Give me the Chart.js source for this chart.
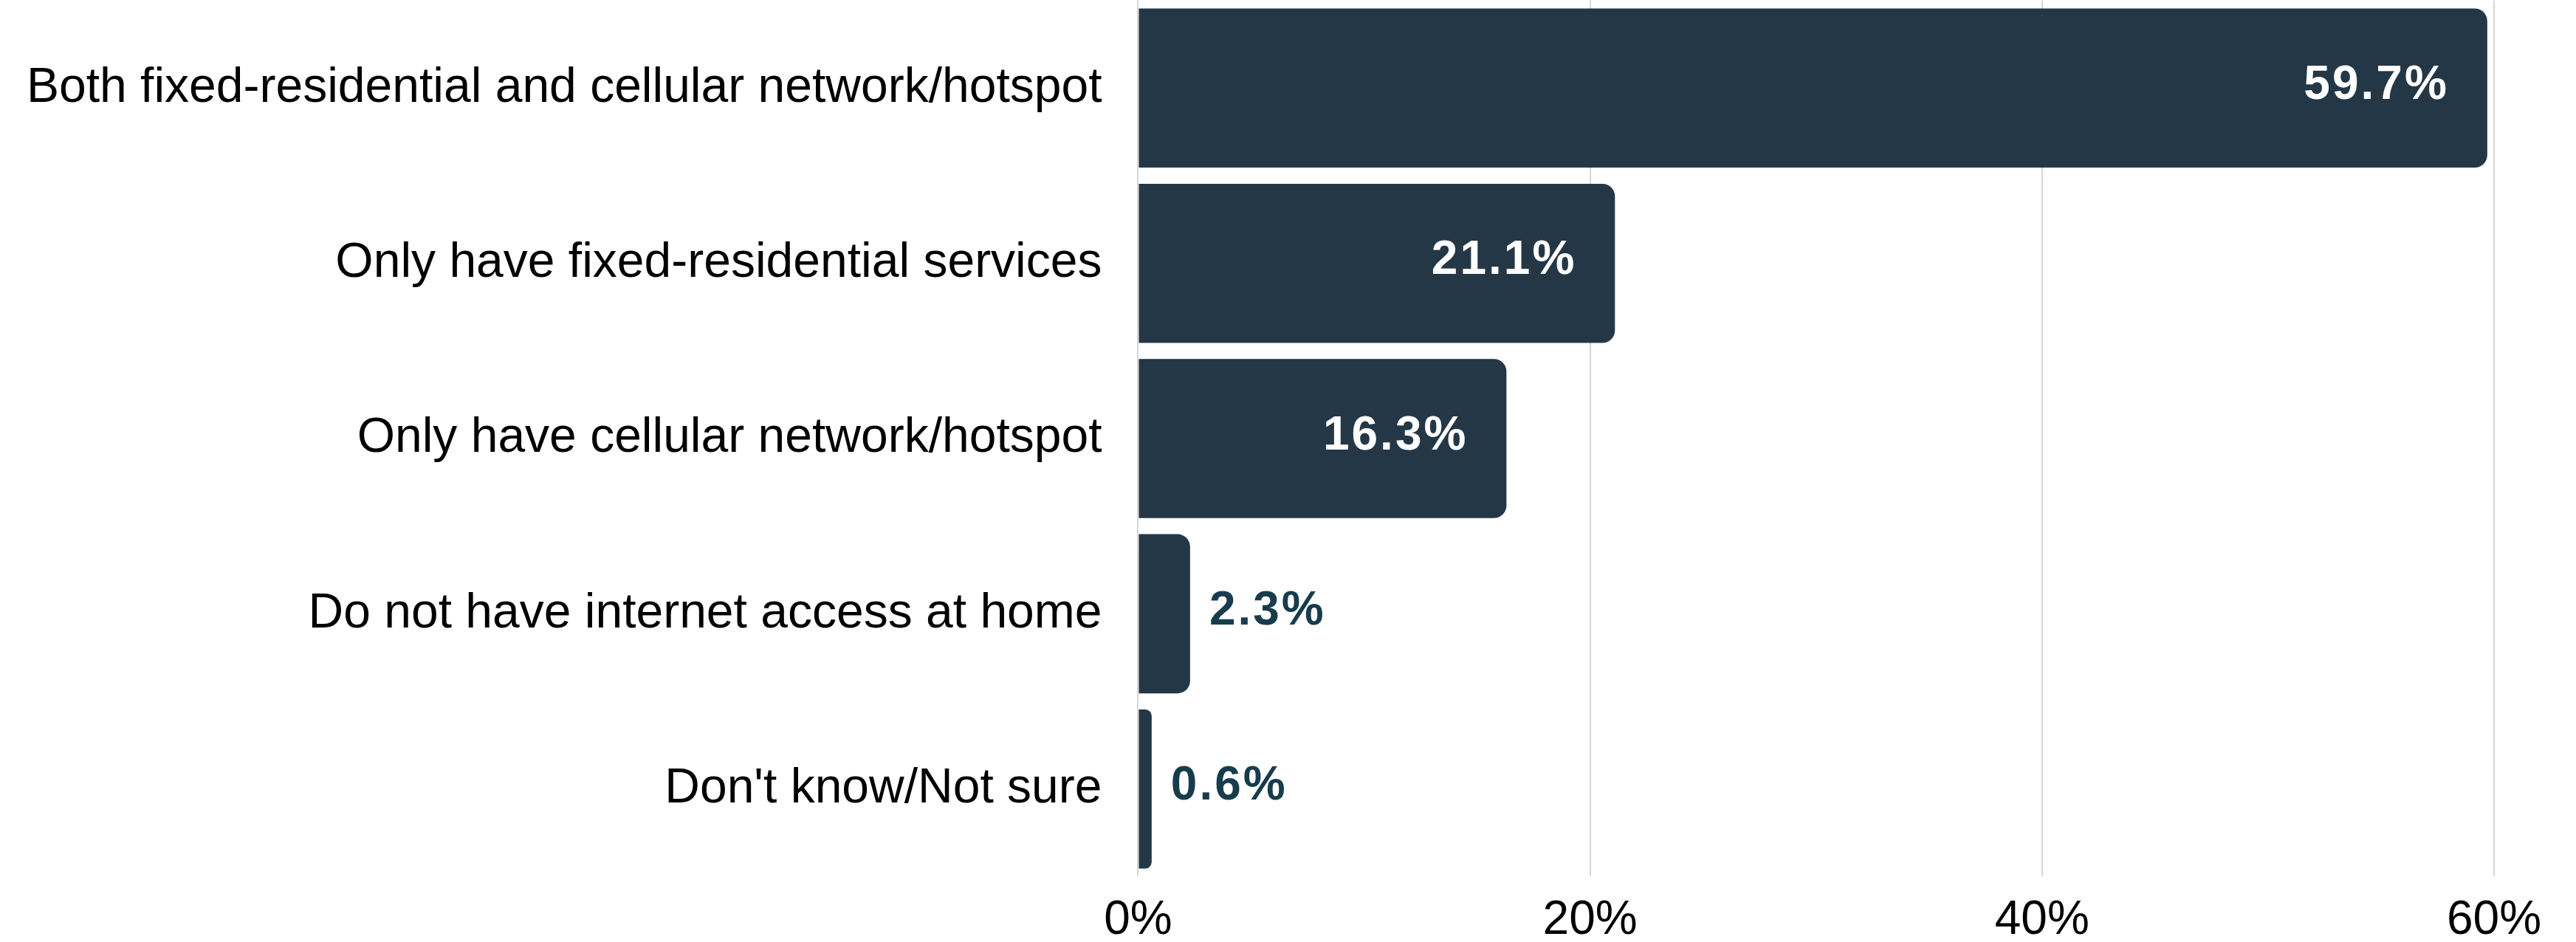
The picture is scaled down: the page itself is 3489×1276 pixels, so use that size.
<!DOCTYPE html>
<html>
<head>
<meta charset="utf-8">
<script src="https://cdn.jsdelivr.net/npm/chart.js@4/dist/chart.umd.min.js"></script>
<style>
  html, body { margin: 0; padding: 0; background: #fff; }
  #wrap { width: 3489px; height: 1276px; }
</style>
</head>
<body>
<div id="wrap"><canvas id="accessChart" width="3489" height="1276"></canvas></div>
<script>
const categories = [
    'Both fixed-residential and cellular network/hotspot',
    'Only have fixed-residential services',
    'Only have cellular network/hotspot',
    'Do not have internet access at home',
    "Don't know/Not sure"
];
const shares = [59.7, 21.1, 16.3, 2.3, 0.6];
const tickValues = [0, 20, 40, 60];

const barColor = '#243746';
const outsideLabelColor = '#173c4d';

// value labels: inside the bar for long bars, just past the end for short ones
const valueLabels = {
    id: 'valueLabels',
    afterDatasetsDraw(chart) {
        const ctx = chart.ctx;
        const meta = chart.getDatasetMeta(0);
        ctx.save();
        ctx.font = 'bold 64px "Liberation Sans", Arial, sans-serif';
        ctx.letterSpacing = '3px';
        ctx.textBaseline = 'middle';
        meta.data.forEach(function (bar, i) {
            const text = shares[i].toFixed(1) + '%';
            if (shares[i] > 10) {
                ctx.fillStyle = '#ffffff';
                ctx.textAlign = 'right';
                ctx.fillText(text, bar.x - 52, bar.y - 3);
            } else {
                ctx.fillStyle = outsideLabelColor;
                ctx.textAlign = 'left';
                ctx.fillText(text, bar.x + 26, bar.y - 3);
            }
        });
        ctx.restore();
    }
};

const ctx = document.getElementById('accessChart').getContext('2d');
const accessChart = new Chart(ctx, {
    type: 'bar',
    data: {
        labels: categories,
        datasets: [{
            data: shares,
            backgroundColor: barColor,
            borderWidth: 0,
            borderRadius: 17,
            borderSkipped: 'start',
            categoryPercentage: 0.908,
            barPercentage: 1.0
        }]
    },
    options: {
        indexAxis: 'y',
        responsive: false,
        animation: false,
        devicePixelRatio: 1,
        layout: {
            padding: { left: 36, right: 111, top: 0, bottom: 0 }
        },
        plugins: {
            legend: { display: false },
            tooltip: { enabled: false }
        },
        scales: {
            x: {
                min: 0,
                max: 60,
                afterBuildTicks: function (scale) {
                    scale.ticks = tickValues.map(v => ({ value: v }));
                },
                grid: {
                    color: '#d6d6d6',
                    lineWidth: 2,
                    drawTicks: true,
                    tickLength: 31,
                    tickColor: 'rgba(0,0,0,0)'
                },
                border: { display: false },
                ticks: {
                    padding: 0,
                    color: '#000',
                    font: { family: '"Liberation Sans", Arial, sans-serif', size: 64, lineHeight: 0.9 },
                    callback: v => v + '%'
                }
            },
            y: {
                grid: {
                    display: true,
                    drawOnChartArea: false,
                    drawTicks: true,
                    tickLength: 49,
                    tickColor: 'rgba(0,0,0,0)',
                    color: 'rgba(0,0,0,0)'
                },
                border: { display: false },
                ticks: {
                    padding: 0,
                    color: '#000',
                    font: { family: '"Liberation Sans", Arial, sans-serif', size: 66, lineHeight: 0.02 }
                }
            }
        }
    },
    plugins: [valueLabels]
});
</script>
</body>
</html>
